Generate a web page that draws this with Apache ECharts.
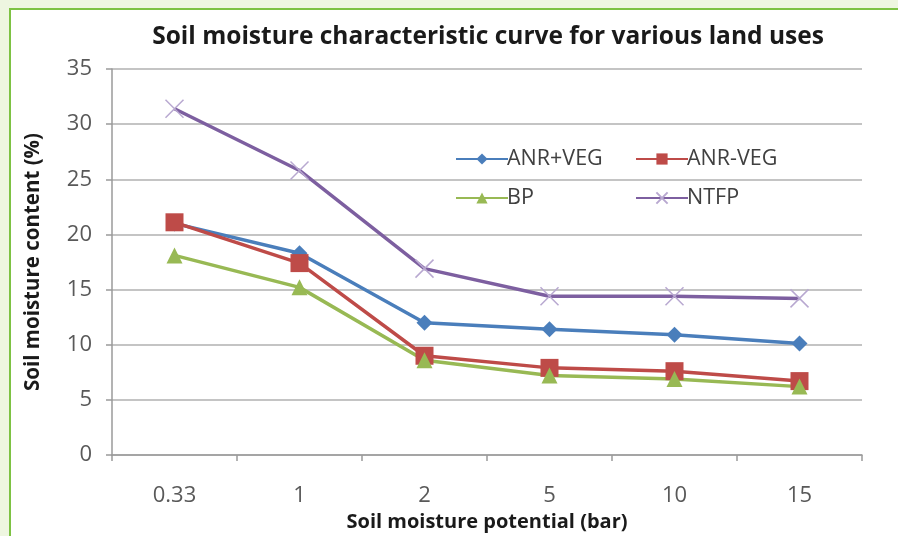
<!DOCTYPE html>
<html>
<head>
<meta charset="utf-8">
<script src="https://cdn.jsdelivr.net/npm/echarts@6/dist/echarts.min.js"></script>
<style>
  html, body { margin: 0; padding: 0; background: #EEF6E0; }
  #card { position: absolute; left: 9px; top: 8px; width: 900px; height: 540px;
          background: #ffffff; border-left: 2px solid #7DC243; border-top: 2px solid #7DC243; }
  #chart { position: absolute; left: 0; top: 0; width: 898px; height: 536px; }
</style>
</head>
<body>
<div id="card"></div>
<div id="chart"></div>
<script>
// Soil moisture potential (bar) categories
const potentials = ['0.33', '1', '2', '5', '10', '15'];

// Soil moisture content (%) per land use
const anrPlusVeg = [21.0, 18.3, 12.0, 11.4, 10.9, 10.1];
const anrMinusVeg = [21.1, 17.4, 9.0, 7.9, 7.6, 6.7];
const bp = [18.1, 15.2, 8.6, 7.2, 6.9, 6.2];
const ntfp = [31.4, 25.8, 16.9, 14.4, 14.4, 14.2];

const FONT = '"Open Sans", Lato, sans-serif';
const crossPath = 'path://M0,0L10,10M10,0L0,10';

const chart = echarts.init(document.getElementById('chart'));

function lineSeries(name, data, color, symbol, size, extra) {
  return Object.assign({
    name: name,
    type: 'line',
    data: data,
    symbol: symbol,
    symbolSize: size,
    lineStyle: { color: color, width: 3.5 },
    itemStyle: { color: color, borderColor: color, borderWidth: 0 },
    emphasis: { disabled: true },
    z: 2
  }, extra || {});
}

const legendText = { fontFamily: FONT, fontSize: 21.5, color: '#404040', padding: [0, 0, 0, -6] };

chart.setOption({
  animation: false,
  textStyle: { fontFamily: FONT },
  title: {
    text: 'Soil moisture characteristic curve for various land uses',
    left: 483,
    top: 20,
    textAlign: 'center',
    textStyle: { fontFamily: FONT, fontSize: 24.5, fontWeight: 'bold', color: '#1a1a1a' }
  },
  legend: [
    {
      data: ['ANR+VEG', 'BP'],
      orient: 'vertical',
      left: 450, top: 143,
      itemWidth: 52, itemHeight: 14, itemGap: 17,
      textStyle: legendText
    },
    {
      data: ['ANR-VEG', 'NTFP'],
      orient: 'vertical',
      left: 630, top: 143,
      itemWidth: 52, itemHeight: 14, itemGap: 17,
      textStyle: legendText
    }
  ],
  grid: { left: 112, right: 36, top: 69, bottom: 81, outerBoundsMode: 'none' },
  xAxis: {
    type: 'category',
    data: potentials,
    boundaryGap: true,
    name: 'Soil moisture potential (bar)',
    nameLocation: 'middle',
    nameGap: 55,
    nameTextStyle: { fontFamily: FONT, fontSize: 20, fontWeight: 'bold', color: '#1a1a1a' },
    axisLine: { lineStyle: { color: '#9a9a9a', width: 1.5 } },
    axisTick: { show: true, length: 6, lineStyle: { color: '#9a9a9a', width: 1.5 } },
    axisLabel: { margin: 30, fontSize: 22, color: '#595959', fontFamily: FONT }
  },
  yAxis: {
    type: 'value',
    min: 0, max: 35, interval: 5,
    name: 'Soil moisture content (%)',
    nameLocation: 'middle',
    nameGap: 68,
    nameTextStyle: { fontFamily: FONT, fontSize: 20.5, fontWeight: 'bold', color: '#1a1a1a' },
    axisLine: { show: true, lineStyle: { color: '#9a9a9a', width: 1.5 } },
    axisTick: { show: true, length: 6, lineStyle: { color: '#9a9a9a', width: 1.5 } },
    axisLabel: { margin: 20, fontSize: 22, color: '#595959', fontFamily: FONT },
    splitLine: { lineStyle: { color: '#b0b0b0', width: 1.5 } }
  },
  series: [
    lineSeries('ANR+VEG', anrPlusVeg, '#4A7EBB', 'diamond', 16),
    lineSeries('ANR-VEG', anrMinusVeg, '#BE4B48', 'rect', 18),
    lineSeries('BP', bp, '#98B954', 'triangle', 16),
    lineSeries('NTFP', ntfp, '#7D5FA0', crossPath, 18, {
      itemStyle: { color: 'none', borderColor: '#B8A8D0', borderWidth: 1.5 }
    })
  ]
});
</script>
</body>
</html>
